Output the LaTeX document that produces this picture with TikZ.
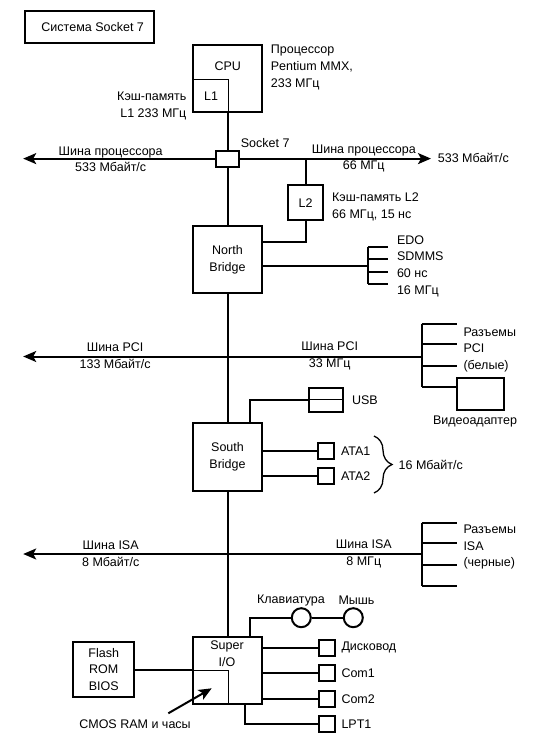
\documentclass[tikz,border=0pt]{standalone}
\usepackage{fontspec}
\setmainfont{Liberation Sans}
\usetikzlibrary{arrows.meta,decorations.pathreplacing}
\begin{document}
\begin{tikzpicture}[x=1pt,y=-1pt,
  font=\fontsize{12.5}{16.7}\selectfont,
  box/.style={draw, line width=2pt, fill=white, inner sep=0pt},
  thinbox/.style={draw, line width=1pt, inner sep=0pt},
  wire/.style={line width=2pt},
  tip/.style={-{Stealth[length=13pt,width=11pt,inset=3pt]}},
  txt/.style={inner sep=0pt, align=left},
  ]
\useasboundingbox (0,0) rectangle (535,733);

% title
\node[box, minimum width=128.5pt, minimum height=32.3pt] (title) at (89.7,27.2) {};
\node[txt] (titlet) at (92.7,27.5) {Система Socket 7};

% CPU
\node[box, minimum width=68.4pt, minimum height=67.3pt] (cpu) at (227.5,78.7) {};
\node[txt] (cput) at (227.7,66.5) {CPU};
\node[thinbox, minimum width=35pt, minimum height=33pt] (l1) at (210.8,95.8) {};
\node[txt] (l1t) at (211,96.7) {L1};
\node[txt, anchor=west] (proct) at (270.7,67.5) {Процессор\\Pentium MMX,\\233 МГц};
\node[txt, anchor=east, align=right] (l1c) at (186.6,105.8) {Кэш-память\\L1 233 МГц};

% socket and processor bus
\node[box, minimum width=22.6pt, minimum height=16pt] (sock) at (227.5,158.6) {};
\node[txt, anchor=west] (sockt) at (240.7,143.3) {Socket 7};
\coordinate (pbL) at (23.2,158.6);
\coordinate (pbR) at (431,158.6);
\draw[wire,tip] (sock.west) -- (pbL);
\draw[wire,tip] (sock.east) -- (pbR);
\node[txt, align=center] (pbl) at (110.7,159.2) {Шина процессора\\533 Мбайт/с};
\node[txt, align=center] (pbr) at (363.8,158.5) {Шина процессора\\66 МГц};
\node[txt, anchor=west] (pbrate) at (437.7,158.3) {533 Мбайт/с};

% L2
\node[box, minimum width=34.5pt, minimum height=35.5pt] (l2) at (305.5,202.7) {L2};
\coordinate (l2j) at (305.5,158.6);
\draw[wire] (l2j) -- (l2.north);
\node[txt, anchor=west] (l2c) at (332,206.7) {Кэш-память L2\\66 МГц, 15 нс};

% North bridge
\node[box, minimum width=68.2pt, minimum height=67.6pt, align=center] (nb) at (227.5,259.5) {North\\Bridge};
\draw[wire] (l2.south) |- ([yshift=17.2pt]nb.east);
\coordinate (memc) at (367.8,265.7);
\draw[wire] ([yshift=-6.2pt]nb.east) -- (memc);
\draw[wire] (367.8,247.3) -- (367.8,284);
\foreach \yy in {247.3,259.3,271.7,284} \draw[wire] (367.8,\yy) -- (388.3,\yy);
\node[txt, anchor=west] (memt) at (396.8,266.2) {EDO\\SDMMS\\60 нс\\16 МГц};

% PCI bus
\coordinate (pciL) at (23.2,356.5);
\coordinate (pciR) at (421.7,356.5);
\draw[wire,tip] (pciR) -- (pciL);
\node[txt, align=center] (pcil) at (115.1,356) {Шина PCI\\133 Мбайт/с};
\node[txt, align=center] (pcir) at (329.7,356) {Шина PCI\\33 МГц};
\node[box, minimum width=47.3pt, minimum height=32.3pt] (video) at (480.3,393.8) {};
\draw[wire] (421.7,324) -- (421.7,387.3);
\foreach \yy in {324,344.3,366.3} \draw[wire] (421.7,\yy) -- (456.7,\yy);
\draw[wire] (421.7,387.3) -- ([yshift=6.5pt]video.west);
\node[txt, anchor=west] (pcit) at (463.3,349.8) {Разъемы\\PCI\\(белые)};
\node[txt] (videot) at (475,421) {Видеоадаптер};

% South bridge
\node[box, minimum width=68.4pt, minimum height=68pt, align=center] (sb) at (227.5,456.7) {South\\Bridge};
\node[box, minimum width=34.3pt, minimum height=24.4pt] (usb) at (326.1,399.7) {};
\draw[wire] ([xshift=22.5pt]sb.north) |- (usb.west);
\draw[line width=1pt] (usb.west) -- (usb.east);
\node[txt, anchor=west] (usbt) at (351.8,400) {USB};
\node[box, minimum size=16pt] (ata1) at (326.3,450.5) {};
\node[box, minimum size=16pt] (ata2) at (326.3,476.2) {};
\draw[wire] (sb.east |- ata1) -- (ata1);
\draw[wire] (sb.east |- ata2) -- (ata2);
\node[txt, anchor=west] (ata1t) at (340.8,450.7) {ATA1};
\node[txt, anchor=west] (ata2t) at (340.8,476.5) {ATA2};
\draw[line width=1.3pt, decorate, decoration={brace, amplitude=18pt}] (374,436) -- (374,493);
\node[txt, anchor=west] (atarate) at (398.5,464.5) {16 Мбайт/с};

% ISA bus
\coordinate (isaL) at (23.2,554);
\coordinate (isaR) at (421.7,554);
\draw[wire,tip] (isaR) -- (isaL);
\node[txt, align=center] (isal) at (110.7,553.7) {Шина ISA\\8 Мбайт/с};
\node[txt, align=center] (isar) at (363.8,553.7) {Шина ISA\\8 МГц};
\draw[wire] (421.7,522.7) -- (421.7,586);
\foreach \yy in {522.7,543.3,565,586} \draw[wire] (421.7,\yy) -- (456.7,\yy);
\node[txt, anchor=west] (isat) at (463.3,547) {Разъемы\\ISA\\(черные)};

% Super I/O
\node[box, minimum width=68.4pt, minimum height=67.3pt] (sio) at (227.5,670.3) {};
\node[txt, align=center] (siot) at (227,654) {Super\\I/O};
\node[thinbox, minimum width=35pt, minimum height=33.3pt] (cmos) at (210.8,687.3) {};
\coordinate (cmosA) at (168.3,713.3);
\coordinate (cmosB) at (211.7,688.3);
\draw[wire,tip] (cmosA) -- (cmosB);
\node[txt] (cmost) at (135,724) {CMOS RAM и часы};
\node[box, minimum width=60.7pt, minimum height=55.6pt, align=center] (flash) at (103.7,669.5) {Flash\\ROM\\BIOS};
\draw[wire] (flash.east) -- (flash.east -| sio.west);

% keyboard / mouse
\node[draw, circle, line width=2pt, minimum size=19pt, inner sep=0pt, fill=white] (kbd) at (301.3,617.7) {};
\node[draw, circle, line width=2pt, minimum size=19pt, inner sep=0pt, fill=white] (mouse) at (353.3,617.7) {};
\draw[wire] ([xshift=22.8pt]sio.north) |- (kbd.west);
\draw[wire] (kbd) -- (mouse);
\node[txt] (kbdt) at (291,600) {Клавиатура};
\node[txt] (mouset) at (356.5,600) {Мышь};

% ports
\node[box, minimum size=16pt] (fdd) at (326.7,648) {};
\node[box, minimum size=16pt] (com1) at (326.7,673) {};
\node[box, minimum size=16pt] (com2) at (326.7,698.8) {};
\node[box, minimum size=16pt] (lpt) at (326.7,724.3) {};
\draw[wire] (sio.east |- fdd) -- (fdd);
\draw[wire] (sio.east |- com1) -- (com1);
\draw[wire] (sio.east |- com2) -- (com2);
\draw[wire] ([xshift=17.2pt]sio.south) |- (lpt.west);
\node[txt, anchor=west] (fddt) at (341.3,647.7) {Дисковод};
\node[txt, anchor=west] (com1t) at (341.3,673) {Com1};
\node[txt, anchor=west] (com2t) at (341.3,699) {Com2};
\node[txt, anchor=west] (lptt) at (341.3,724.3) {LPT1};

% main vertical bus
\draw[wire] (cpu) -- (sock);
\draw[wire] (sock) -- (nb);
\draw[wire] (nb) -- (sb);
\draw[wire] (sb) -- (sio);
\end{tikzpicture}
\end{document}
